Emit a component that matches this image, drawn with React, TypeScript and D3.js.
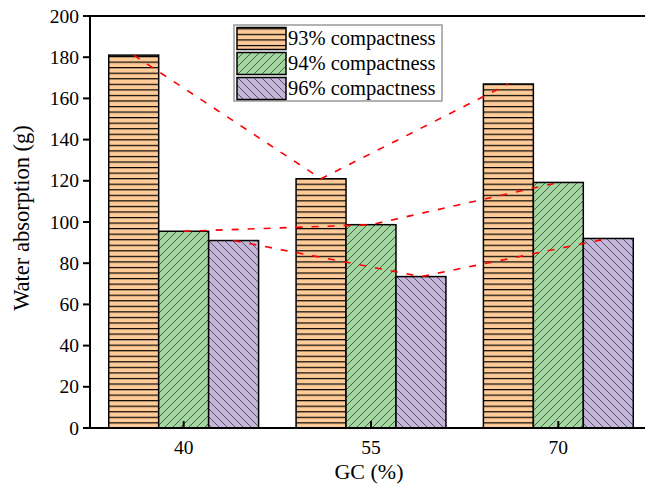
import React from 'react';
import * as d3 from 'd3';

const categories = [40, 55, 70];
const seriesNames = ['93% compactness', '94% compactness', '96% compactness'];
const series93 = [181, 121, 167];
const series94 = [95.5, 98.7, 119.2];
const series96 = [91, 73.5, 92];
const yTicks = [0, 20, 40, 60, 80, 100, 120, 140, 160, 180, 200];
const xTickLabels = ['40', '55', '70'];

const W = 645;
const H = 486;
const FONT = '"Liberation Serif", "Times New Roman", serif';

export default function App() {
  const x = d3.scaleLinear().domain([32.5, 77.5]).range([90, 652]);
  const y = d3.scaleLinear().domain([0, 200]).range([428, 16]);
  const barW = x(4) - x(0);
  const allSeries = [series93, series94, series96];
  const patterns = ['url(#p93)', 'url(#p94)', 'url(#p96)'];
  const line = d3.line<[number, number]>().x(d => d[0]).y(d => d[1]);

  const centerX = (ci: number, si: number) => x(categories[ci]) + (si - 1) * barW;

  return (
    <svg width={W} height={H} style={{ position: 'absolute', left: 0, top: 0, background: '#fff' }}>
      <defs>
        <pattern id="p93" patternUnits="userSpaceOnUse" width={10} height={5.55} y={0.5}>
          <rect width={10} height={5.55} fill="#FFCC99" />
          <line x1={0} x2={10} y1={0.6} y2={0.6} stroke="#000" strokeWidth={1.2} />
        </pattern>
        <pattern id="p94" patternUnits="userSpaceOnUse" width={8} height={8}>
          <rect width={8} height={8} fill="#A2D8A0" />
          <path d="M0,8 L8,0 M-2,2 L2,-2 M6,10 L10,6" stroke="#3a3a3a" strokeWidth={0.8} />
        </pattern>
        <pattern id="p96" patternUnits="userSpaceOnUse" width={8} height={8}>
          <rect width={8} height={8} fill="#C4B6DB" />
          <path d="M0,0 L8,8 M-2,6 L2,10 M6,-2 L10,2" stroke="#3a3a3a" strokeWidth={0.8} />
        </pattern>
      </defs>

      {/* bars */}
      {allSeries.map((vals, si) =>
        vals.map((v, ci) => (
          <rect
            key={`b${si}-${ci}`}
            x={centerX(ci, si) - barW / 2}
            y={y(v)}
            width={barW}
            height={y(0) - y(v)}
            fill={patterns[si]}
            stroke="#000"
            strokeWidth={1.5}
          />
        ))
      )}

      {/* dashed connecting lines */}
      {allSeries.map((vals, si) => (
        <path
          key={`l${si}`}
          d={line(vals.map((v, ci) => [centerX(ci, si), y(v)] as [number, number])) || ''}
          fill="none"
          stroke="#FF0000"
          strokeWidth={1.6}
          strokeDasharray="7,9"
        />
      ))}

      {/* frame */}
      <line x1={90} x2={652} y1={y(200)} y2={y(200)} stroke="#000" strokeWidth={2} />
      <line x1={90} x2={652} y1={y(0)} y2={y(0)} stroke="#000" strokeWidth={2} />
      <line x1={90} x2={90} y1={y(0) + 1} y2={y(200) - 1} stroke="#000" strokeWidth={2} />

      {/* y ticks */}
      {yTicks.map(t => (
        <g key={`yt${t}`}>
          <line x1={83} x2={90} y1={y(t)} y2={y(t)} stroke="#000" strokeWidth={2} />
          <text x={79} y={y(t) + 6.5} textAnchor="end" fontFamily={FONT} fontSize={19.5} fill="#000">
            {t}
          </text>
        </g>
      ))}

      {/* x ticks */}
      {categories.map((c, i) => (
        <g key={`xt${c}`}>
          <line x1={x(c)} x2={x(c)} y1={y(0)} y2={y(0) - 7} stroke="#000" strokeWidth={2} />
          <text x={x(c)} y={454} textAnchor="middle" fontFamily={FONT} fontSize={19.5} fill="#000">
            {xTickLabels[i]}
          </text>
        </g>
      ))}

      {/* axis titles */}
      <text x={369} y={479} textAnchor="middle" fontFamily={FONT} fontSize={22} fill="#000">
        GC (%)
      </text>
      <text
        transform={`translate(29, 218) rotate(-90)`}
        textAnchor="middle"
        fontFamily={FONT}
        fontSize={22.5}
        fill="#000"
      >
        Water absorption (g)
      </text>

      {/* legend */}
      <rect x={234} y={25} width={208} height={76} fill="#fff" stroke="#999" strokeWidth={1.5} />
      {seriesNames.map((n, i) => (
        <g key={`lg${i}`}>
          <rect x={237} y={27.5 + i * 25} width={49} height={22} fill={patterns[i]} stroke="#000" strokeWidth={1.5} />
          <text x={288} y={45 + i * 25} fontFamily={FONT} fontSize={20.5} fill="#000">
            {n}
          </text>
        </g>
      ))}
    </svg>
  );
}
